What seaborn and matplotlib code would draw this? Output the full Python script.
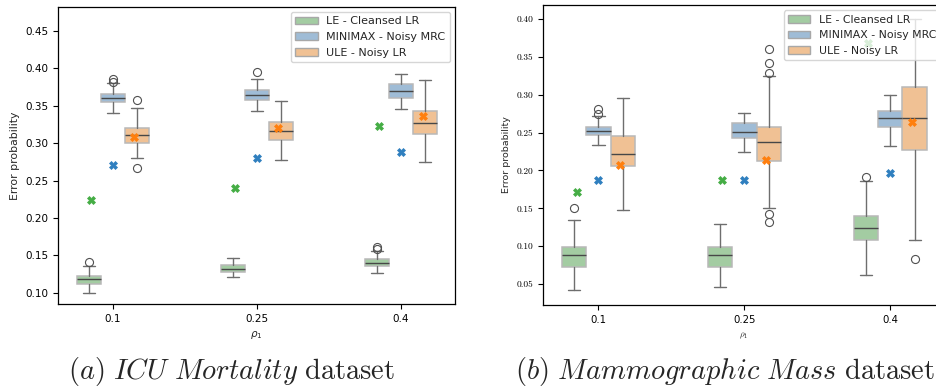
import numpy as np
import pandas as pd
import matplotlib
matplotlib.use("Agg")
import matplotlib.pyplot as plt
from matplotlib.patches import Patch
import seaborn as sns

# ---------------------------------------------------------------- data
rho_labels = ["0.1", "0.25", "0.4"]
methods = ["LE - Cleansed LR", "MINIMAX - Noisy MRC", "ULE - Noisy LR"]

# ICU Mortality: box summaries per method, one entry per rho value
icu_whislo = [[0.0996, 0.1210, 0.1258], [0.3404, 0.3436, 0.3457], [0.2796, 0.2773, 0.2747]]
icu_q1     = [[0.1124, 0.1276, 0.1356], [0.3550, 0.3573, 0.3610], [0.3004, 0.3044, 0.3129]]
icu_med    = [[0.1178, 0.1316, 0.1400], [0.3604, 0.3644, 0.3703], [0.3115, 0.3156, 0.3267]]
icu_q3     = [[0.1230, 0.1373, 0.1450], [0.3657, 0.3716, 0.3796], [0.3204, 0.3280, 0.3436]]
icu_whishi = [[0.1364, 0.1467, 0.1556], [0.3804, 0.3857, 0.3924], [0.3467, 0.3569, 0.3849]]
icu_fliers = [[[0.141], [], [0.1583, 0.1613]],
              [[0.3817, 0.3853], [0.3947], []],
              [[0.3583, 0.2662], [], []]]
icu_marks  = [[0.224, 0.2404, 0.3236], [0.2711, 0.280, 0.2884], [0.308, 0.3204, 0.3364]]

# Mammographic Mass: box summaries per method, one entry per rho value
mam_whislo = [[0.0415, 0.0464, 0.0619], [0.2340, 0.2238, 0.2327], [0.1472, 0.1500, 0.1085]]
mam_q1     = [[0.0725, 0.0725, 0.1085], [0.2472, 0.2433, 0.2574], [0.2063, 0.2120, 0.2274]]
mam_med    = [[0.0878, 0.0878, 0.1244], [0.2525, 0.2508, 0.2693], [0.2217, 0.2380, 0.2693]]
mam_q3     = [[0.0989, 0.0993, 0.1398], [0.2569, 0.2621, 0.2789], [0.2459, 0.2578, 0.3102]]
mam_whishi = [[0.1345, 0.1297, 0.1865], [0.2714, 0.2759, 0.3000], [0.2961, 0.3252, 0.4000]]
mam_fliers = [[[0.150], [], [0.1918]],
              [[0.2741, 0.2812], [], []],
              [[], [0.3291, 0.3419, 0.3604, 0.1314, 0.1419], [0.0825]]]
mam_marks  = [[0.171, 0.1869, 0.3683], [0.1869, 0.1869, 0.1966], [0.2076, 0.2133, 0.264]]

icu_yticks = ["0.10", "0.15", "0.20", "0.25", "0.30", "0.35", "0.40", "0.45"]
mam_yticks = ["0.05", "0.10", "0.15", "0.20", "0.25", "0.30", "0.35", "0.40"]

# ---------------------------------------------------------------- style
box_colors = ["#a3cca2", "#9fbcd6", "#f0c194"]
mark_colors = ["#45ad45", "#2f7fbf", "#ff7f0e"]
box_edge = "#b8b8b8"
whisker_col = "#6e6e6e"
median_col = "#474747"

sns.set_style("ticks")
plt.rcParams["font.family"] = ["DejaVu Sans"]

W, H = 937, 388
fig = plt.figure(figsize=(W / 100, H / 100), dpi=100)


def px_axes(left, top, right, bottom):
    return fig.add_axes([left / W, 1 - bottom / H, (right - left) / W, (bottom - top) / H])


def draw_panel(ax, whislo, q1, med, q3, whishi, fliers, marks):
    n_hue = len(methods)
    width = 0.5
    each = width / n_hue
    offsets = np.linspace(0, width - each, n_hue) - (width - each) / 2
    xs = np.arange(len(rho_labels))
    for h in range(n_hue):
        stats = [dict(whislo=whislo[h][i], q1=q1[h][i], med=med[h][i],
                      q3=q3[h][i], whishi=whishi[h][i], fliers=fliers[h][i])
                 for i in range(len(rho_labels))]
        ax.bxp(stats, positions=xs + offsets[h], widths=each, patch_artist=True,
               manage_ticks=False, showfliers=True,
               boxprops=dict(facecolor=box_colors[h], edgecolor=box_edge, linewidth=1.1),
               whiskerprops=dict(color=whisker_col, linewidth=1.0),
               capprops=dict(color=whisker_col, linewidth=1.0),
               medianprops=dict(color=median_col, linewidth=1.0),
               flierprops=dict(marker="o", markerfacecolor="none",
                               markeredgecolor="#505050", markersize=5.8,
                               markeredgewidth=0.8))
    df = pd.DataFrame({
        "rho": np.tile(rho_labels, n_hue),
        "method": np.repeat(methods, len(rho_labels)),
        "value": np.concatenate(marks),
    })
    sns.pointplot(data=df, x="rho", y="value", hue="method", order=rho_labels,
                  hue_order=methods, palette=mark_colors, dodge=0.3,
                  linestyle="none", markers="X", errorbar=None, legend=False,
                  markersize=6.3, markeredgewidth=0.5, zorder=5, ax=ax)
    ax.set_xlim(-0.38, 2.375)
    ax.set_xticks(xs)
    ax.set_xticklabels(rho_labels)
    for s in ax.spines.values():
        s.set_color("black")
        s.set_linewidth(0.9)
    ax.tick_params(colors="black", width=0.8, length=3.5)


handles = [Patch(facecolor=c, edgecolor="#a8a8a8", label=m) for c, m in zip(box_colors, methods)]

# ---------------------------------------------------------------- (a) ICU Mortality
ax1 = px_axes(58, 7, 455, 304)
draw_panel(ax1, icu_whislo, icu_q1, icu_med, icu_q3, icu_whishi, icu_fliers, icu_marks)
ax1.set_ylim(0.085, 0.482)
ax1.set_yticks([float(t) for t in icu_yticks])
ax1.set_yticklabels(icu_yticks)
ax1.tick_params(labelsize=7.5)
ax1.set_ylabel("Error probability", fontsize=7.8)
ax1.set_xlabel(r"$\rho_1$", fontsize=7.5, math_fontfamily="dejavusans")
ax1.legend(handles=handles, loc="upper right", fontsize=8, framealpha=0.8,
           borderaxespad=0.45)

# ---------------------------------------------------------------- (b) Mammographic Mass
ax2 = px_axes(543, 5, 945, 305)
draw_panel(ax2, mam_whislo, mam_q1, mam_med, mam_q3, mam_whishi, mam_fliers, mam_marks)
ax2.set_ylim(0.0223, 0.4185)
ax2.set_yticks([float(t) for t in mam_yticks])
ax2.set_yticklabels(mam_yticks, fontfamily="cmr10", fontsize=6.8)
ax2.tick_params(axis="x", labelsize=7.3)
ax2.set_ylabel("Error probability", fontsize=6.8)
ax2.set_xlabel(r"$\rho_1$", fontsize=6.5, math_fontfamily="cm")
ax2.legend(handles=handles, loc="upper left", bbox_to_anchor=(0.586, 1.0),
           fontsize=7.8, framealpha=0.8, borderaxespad=0.5)

# ---------------------------------------------------------------- captions
fig.text(232 / W, 1 - 379 / H, r"$(a)\ \mathit{ICU\ Mortality}\ \mathrm{dataset}$",
         ha="center", va="baseline", fontsize=20.5, math_fontfamily="cm")
fig.text(725 / W, 1 - 379 / H, r"$(b)\ \mathit{Mammographic\ Mass}\ \mathrm{dataset}$",
         ha="center", va="baseline", fontsize=20.5, math_fontfamily="cm")

fig.savefig("out.png", dpi=100)
